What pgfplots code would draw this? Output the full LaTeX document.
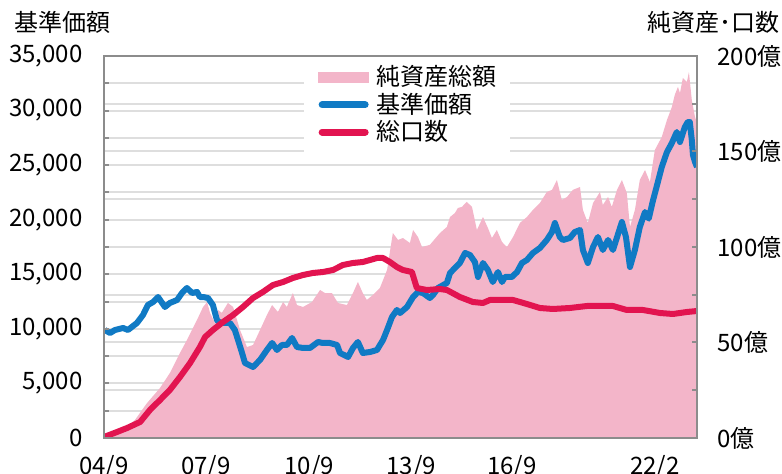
\documentclass[border=0pt]{standalone}
\usepackage{fontspec}
\setmainfont{Noto Sans CJK JP}
\usepackage{pgfplots}
\usepackage{pgfplotstable}
\pgfplotsset{compat=1.18}
\definecolor{pinkc}{RGB}{243,181,201}
\definecolor{bluec}{RGB}{16,122,196}
\definecolor{redc}{RGB}{226,20,80}
\definecolor{gridc}{RGB}{222,222,222}
\definecolor{spinec}{RGB}{140,140,140}
\pgfplotsset{
  layers/mylayers/.define layer set={axis background,axis grid,main,axis ticks,axis lines,axis tick labels,axis descriptions,axis foreground}{/pgfplots/layers/standard},
}
% net assets (oku yen), x = months since 2004/9
\pgfplotstableread{
m w
0 0
5.5 3.1
10.7 9.4
14.9 18.3
19.4 26.2
22.8 34.0
26.3 44.5
28.7 51.3
32.2 61.8
34.3 68.6
35.7 71.2
36.7 65.5
38.4 60.2
39.5 67.0
40.8 65.5
42.9 70.7
44.7 68.6
47.1 56.5
49.5 47.6
51.6 48.7
54.0 56.5
56.4 64.4
58.2 69.6
60.2 66.0
62.0 71.2
63.3 68.6
65.4 75.9
66.8 69.6
68.9 68.6
72.0 71.2
74.8 77.5
76.5 75.9
78.9 75.9
81.0 70.7
84.1 69.6
86.2 75.9
87.9 81.7
89.6 75.9
91.0 72.3
93.1 74.9
95.5 78.5
98.0 88.0
100.0 107.3
101.8 103.7
103.5 104.7
105.9 102.1
107.0 108.9
108.7 105.2
110.1 100.0
112.8 101.1
116.3 107.3
118.7 110.5
119.8 115.7
121.5 117.8
122.5 120.4
123.9 121.0
125.6 123.6
127.4 121.0
129.1 108.9
131.2 115.7
132.9 110.0
134.3 104.7
136.0 108.9
137.8 102.6
139.5 100.0
141.6 105.2
144.0 112.6
146.4 115.7
148.5 119.4
150.9 123.0
153.3 128.8
155.1 129.9
156.8 135.1
158.5 124.6
160.3 126.2
162.3 129.9
164.8 131.4
165.8 119.4
167.5 112.6
169.3 123.0
171.7 128.8
172.7 122.0
174.5 126.2
175.8 121.0
177.6 129.9
179.3 135.1
181.0 128.3
182.1 110.5
183.8 119.4
185.5 135.1
187.3 140.3
189.0 134.0
190.7 150.8
193.1 157.6
194.9 166.5
196.6 173.3
197.6 179.6
198.7 183.8
199.4 180.6
200.4 188.5
201.8 186.4
202.5 191.6
203.5 177.0
204.6 168.1
205.3 164.9
}\nettable
% NAV
\pgfplotstableread{
m v
0.3 9895
2.1 9620
3.8 9895
6.6 10078
8.3 9895
11.4 10536
13.5 11269
15.2 12185
17.0 12460
18.7 12918
21.1 12002
22.8 12369
25.3 12644
27.0 13285
28.7 13743
30.5 13285
32.2 13377
33.2 12918
34.3 12918
36.0 12827
37.7 12185
39.1 10811
40.2 10536
41.9 10536
43.6 10536
45.3 9895
46.4 8979
47.8 7788
48.8 6872
51.6 6505
54.0 7146
56.4 8063
58.2 8704
59.9 8063
61.6 8521
63.3 8521
65.1 9162
66.8 8337
68.9 8246
71.3 8246
74.1 8796
75.8 8704
78.2 8704
80.7 8521
81.7 7788
84.5 7421
86.2 8246
87.9 8796
89.6 7788
92.1 7879
94.5 8063
96.6 8979
98.0 9895
99.7 11086
101.4 11727
102.5 11452
104.9 12002
107.0 12918
108.7 13377
110.4 13285
112.8 12827
113.9 13102
115.6 13743
118.7 14201
119.8 15117
121.5 15575
123.2 16034
125.0 16950
126.7 16767
128.4 16125
129.5 14751
131.2 16034
132.9 15392
134.6 14293
136.4 15209
137.8 14293
138.8 14751
141.2 14751
143.0 15209
144.7 16034
146.4 16308
148.5 16950
150.9 17408
153.3 18141
155.1 18874
156.1 19698
157.8 18416
158.9 18141
161.3 18324
163.0 18874
164.8 19057
165.8 17225
167.5 16034
169.3 17499
171.0 18416
172.7 17225
174.5 18141
176.2 17225
179.3 19790
180.7 18416
182.1 15667
183.8 17225
185.5 19332
187.3 20706
188.6 20100
190.0 21700
191.4 23100
193.1 24829
194.9 26203
196.6 27028
198.3 28036
199.4 27120
201.1 28494
202.1 28952
202.8 28952
203.5 27303
203.9 25929
204.6 25287
205.3 24829
}\navtable
% total units
\pgfplotstableread{
m u
0 92
4.5 550
8.0 916
12.5 1466
15.9 2565
19.4 3482
22.8 4398
26.3 5589
29.8 6872
33.2 8337
35.0 9254
37.7 9895
41.2 10628
44.7 11269
48.1 12002
51.6 12827
55.0 13377
58.5 14018
62.0 14293
65.4 14659
68.9 14934
72.3 15117
75.8 15209
79.3 15392
82.7 15850
86.2 16034
89.6 16125
92.1 16308
94.5 16492
96.6 16492
99.0 16125
101.4 15667
103.5 15392
106.6 15209
108.3 13743
111.8 13560
116.3 13651
118.7 13560
123.2 12918
127.7 12460
131.2 12369
133.6 12644
141.6 12644
146.4 12277
150.9 11911
155.4 11819
161.3 11911
167.2 12094
176.2 12094
181.0 11727
186.6 11727
192.5 11452
197.0 11361
201.8 11544
205.3 11636
}\unitstable
\begin{document}
\fontsize{12}{14}\selectfont
\begin{tikzpicture}
\pgfplotsset{
  common/.style={
    set layers=mylayers,
    width=296.5pt, height=191pt, scale only axis,
    at={(52pt,18pt)}, anchor=south west,
    xmin=0, xmax=205.3,
    grid style={color=gridc, line width=1pt},
    minor grid style={color=gridc, line width=1pt},
    tick align=inside,
    major tick length=2.5pt, minor tick length=2.5pt,
    every tick/.style={spinec, line width=1pt},
    every tick label/.append style={font=\fontsize{12}{14}\selectfont},
    axis line style={spinec, line width=1.2pt},
  }
}
\begin{axis}[common,
  ymin=0, ymax=200,
  axis x line=none, axis y line*=right,
  ytick={0,50,100,150,200},
  yticklabels={0億,50億,100億,150億,200億},
  minor y tick num=1,
  ymajorgrids, yminorgrids,
  yticklabel style={xshift=6pt},
]
\addplot[fill=pinkc, draw=none] table[x=m,y=w]{\nettable} \closedcycle;
\end{axis}
\begin{axis}[common,
  ymin=0, ymax=35000,
  ytick={0,5000,...,35000},
  scaled y ticks=false,
  minor y tick num=1,
  ymajorgrids, yminorgrids,
  ytick pos=left, xtick pos=bottom,
  xtick={0,35.3,71,106.3,141.2,190.7},
  xticklabels={04/9,07/9,10/9,13/9,16/9,22/2},
  xtick style={draw=none},
  /pgf/number format/1000 sep={,},
  /pgf/number format/assume math mode=true,
  yticklabel style={xshift=-6.5pt},
  xticklabel style={inner ysep=0pt, yshift=-8.5pt},
  legend cell align=left,
  legend style={at={(0.337,0.997)}, anchor=north west, draw=none, fill=white,
    inner xsep=7pt, inner ysep=4pt, row sep=1.75pt, column sep=3.5pt,
    font=\fontsize{12}{14}\selectfont, nodes={inner sep=0pt}},
]
\addlegendimage{legend image code/.code={\fill[pinkc] (0pt,-2.6pt) rectangle (25pt,2.6pt);}}
\addlegendentry{純資産総額}
\addplot[bluec, line width=3pt, line join=round,
  legend image code/.code={\draw[bluec,line width=3.5pt,line cap=round] (1.75pt,0pt) -- (23.25pt,0pt);}]
  table[x=m,y=v]{\navtable};
\addlegendentry{基準価額}
\addplot[redc, line width=3pt, line join=round,
  legend image code/.code={\draw[redc,line width=3.5pt,line cap=round] (1.75pt,0pt) -- (23.25pt,0pt);}]
  table[x=m,y=u]{\unitstable};
\addlegendentry{総口数}
\end{axis}
\node at (31pt,226pt) {基準価額};
\node at (356.5pt,226pt) {純資産･口数};
\pgfresetboundingbox
\useasboundingbox (0,0) rectangle (391pt,237pt);
\end{tikzpicture}
\end{document}
